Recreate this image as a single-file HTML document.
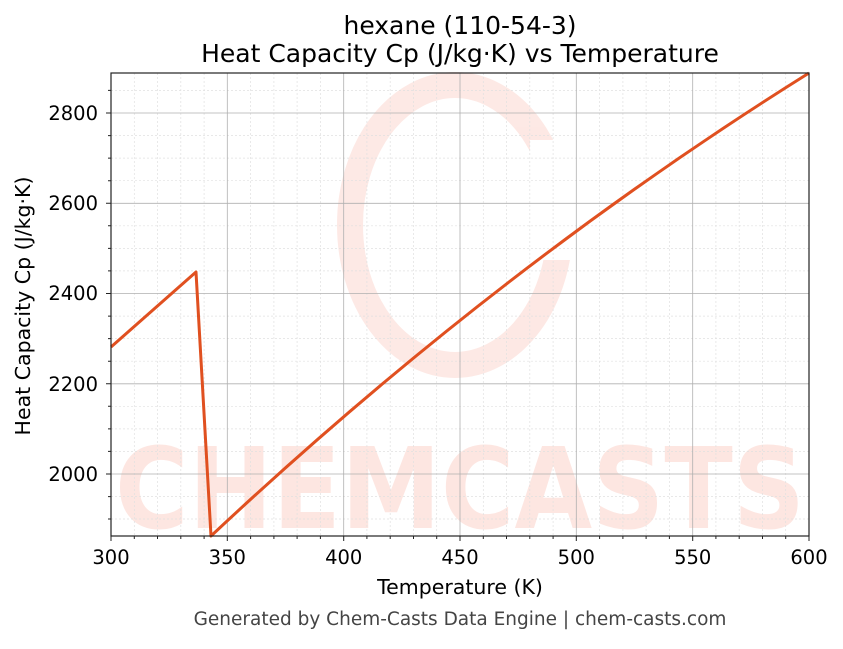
<!DOCTYPE html>
<html><head><meta charset="utf-8"><style>
body{margin:0;background:#fff;}
svg text{font-family:"DejaVu Sans","Liberation Sans",sans-serif;}
</style></head><body>
<svg width="843" height="644" xmlns="http://www.w3.org/2000/svg">
<rect width="843" height="644" fill="#fff"/>
<!-- watermark -->
<g opacity="0.8">
<ellipse cx="455" cy="225" rx="105" ry="140" fill="none" stroke="#fde3de" stroke-width="26"/>
<rect x="530" y="140" width="60" height="120" fill="#fff"/>
<text x="460" y="528" font-size="112" font-weight="bold" fill="#fde0da" text-anchor="middle" textLength="690" lengthAdjust="spacingAndGlyphs" style="font-family:'DejaVu Sans',sans-serif">CHEMCASTS</text>
</g>
<!-- minor grid -->
<g stroke="#e0e0e0" stroke-width="0.7" stroke-dasharray="2,2">
<path d="M134.3 73V536M157.5 73V536M180.8 73V536M204.1 73V536M250.6 73V536M273.9 73V536M297.1 73V536M320.4 73V536M366.9 73V536M390.2 73V536M413.5 73V536M436.7 73V536M483.3 73V536M506.5 73V536M529.8 73V536M553.1 73V536M599.6 73V536M622.9 73V536M646.1 73V536M669.4 73V536M715.9 73V536M739.2 73V536M762.5 73V536M785.7 73V536"/>
<path d="M111 519H809M111 496.6H809M111 451.4H809M111 428.9H809M111 406.3H809M111 361.2H809M111 338.6H809M111 316.1H809M111 270.9H809M111 248.4H809M111 225.8H809M111 180.7H809M111 158.1H809M111 135.6H809M111 90.4H809"/>
</g>
<!-- major grid -->
<g stroke="#b0b0b0" stroke-width="0.8">
<path d="M227.3 73V536M343.7 73V536M460 73V536M576.3 73V536M692.7 73V536"/>
<path d="M111 474H809M111 383.8H809M111 293.5H809M111 203.3H809M111 113H809"/>
</g>
<!-- data -->
<path fill="none" stroke="#e05020" stroke-width="3" stroke-linejoin="round"
d="M111,347 L196,272 L211,536 Q497,268 809,73"/>
<!-- axes -->
<rect x="111" y="73" width="698" height="463" fill="none" stroke="#222" stroke-width="1.2"/>
<g stroke="#222" stroke-width="1">
<path d="M111 536v5M227.3 536v5M343.7 536v5M460 536v5M576.3 536v5M692.7 536v5M809 536v5"/>
<path d="M134.3 536v3M157.5 536v3M180.8 536v3M204.1 536v3M250.6 536v3M273.9 536v3M297.1 536v3M320.4 536v3M366.9 536v3M390.2 536v3M413.5 536v3M436.7 536v3M483.3 536v3M506.5 536v3M529.8 536v3M553.1 536v3M599.6 536v3M622.9 536v3M646.1 536v3M669.4 536v3M715.9 536v3M739.2 536v3M762.5 536v3M785.7 536v3"/>
<path d="M111 474h-5M111 383.8h-5M111 293.5h-5M111 203.3h-5M111 113h-5"/>
<path d="M111 519h-3M111 496.6h-3M111 451.4h-3M111 428.9h-3M111 406.3h-3M111 361.2h-3M111 338.6h-3M111 316.1h-3M111 270.9h-3M111 248.4h-3M111 225.8h-3M111 180.7h-3M111 158.1h-3M111 135.6h-3M111 90.4h-3"/>
</g>
<g font-size="19.5" fill="#000" text-anchor="middle">
<text x="111" y="564">300</text><text x="227.3" y="564">350</text><text x="343.7" y="564">400</text><text x="460" y="564">450</text><text x="576.3" y="564">500</text><text x="692.7" y="564">550</text><text x="809" y="564">600</text>
</g>
<g font-size="19.5" fill="#000" text-anchor="end">
<text x="98" y="481">2000</text><text x="98" y="391">2200</text><text x="98" y="300">2400</text><text x="98" y="210">2600</text><text x="98" y="120">2800</text>
</g>
<text x="460" y="594" font-size="20.5" text-anchor="middle">Temperature (K)</text>
<text transform="translate(30,306) rotate(-90)" font-size="20.5" text-anchor="middle">Heat Capacity Cp (J/kg·K)</text>
<text x="460" y="34" font-size="25" text-anchor="middle">hexane (110-54-3)</text>
<text x="460" y="62" font-size="25" text-anchor="middle">Heat Capacity Cp (J/kg·K) vs Temperature</text>
<text x="460" y="625" font-size="18.5" fill="#444" text-anchor="middle">Generated by Chem-Casts Data Engine | chem-casts.com</text>
</svg>
</body></html>
